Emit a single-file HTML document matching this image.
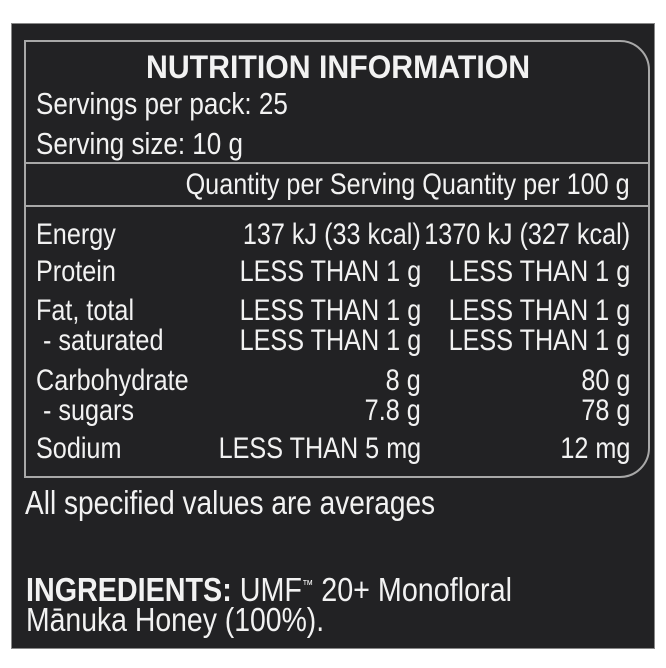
<!DOCTYPE html>
<html><head><meta charset="utf-8"><style>
html,body{margin:0;padding:0;background:#fff;}
body{width:666px;height:668px;position:relative;overflow:hidden;font-family:"Liberation Sans",Arial,sans-serif;color:#f2f2f2;}
#panel{position:absolute;left:11px;top:23px;width:644px;height:626px;background:#222224;border:1px solid #888;box-sizing:border-box;}
#box{position:absolute;left:24px;top:40px;width:626px;height:438px;border:2px solid #a8a8a8;border-radius:0 30px 30px 0;box-sizing:border-box;}
.hl{position:absolute;left:26px;width:622px;height:2px;background:#a8a8a8;}
.t{position:absolute;white-space:nowrap;font-size:30px;line-height:30px;transform:scaleX(0.84);transform-origin:left center;}
.r{transform-origin:right center;text-align:right;}
.f{font-size:33px;line-height:33px;transform:scaleX(0.85);}
.b{font-weight:bold;}
</style></head><body>
<div id="panel"></div>
<div id="box"></div>
<div class="hl" style="top:162px"></div>
<div class="hl" style="top:205px"></div>

<div class="t b" style="left:146px;top:51px;font-size:32px;line-height:32px;transform:scaleX(0.945)">NUTRITION INFORMATION</div>
<div class="t" style="left:36px;top:88px;font-size:31px;line-height:31px">Servings per pack: 25</div>
<div class="t" style="left:36px;top:128px;font-size:31px;line-height:31px">Serving size: 10 g</div>

<div class="t r" style="right:36px;top:170px">Quantity per Serving Quantity per 100 g</div>

<div class="t" style="left:36px;top:220px">Energy</div>
<div class="t r" style="right:245px;top:220px">137 kJ (33 kcal)</div>
<div class="t r" style="right:36px;top:220px">1370 kJ (327 kcal)</div>

<div class="t" style="left:36px;top:257px">Protein</div>
<div class="t r" style="right:245px;top:257px">LESS THAN 1 g</div>
<div class="t r" style="right:36px;top:257px">LESS THAN 1 g</div>

<div class="t" style="left:36px;top:296px">Fat, total</div>
<div class="t r" style="right:245px;top:296px">LESS THAN 1 g</div>
<div class="t r" style="right:36px;top:296px">LESS THAN 1 g</div>

<div class="t" style="left:36px;top:326px">&nbsp;- saturated</div>
<div class="t r" style="right:245px;top:326px">LESS THAN 1 g</div>
<div class="t r" style="right:36px;top:326px">LESS THAN 1 g</div>

<div class="t" style="left:36px;top:366px">Carbohydrate</div>
<div class="t r" style="right:245px;top:366px">8 g</div>
<div class="t r" style="right:36px;top:366px">80 g</div>

<div class="t" style="left:36px;top:396px">&nbsp;- sugars</div>
<div class="t r" style="right:245px;top:396px">7.8 g</div>
<div class="t r" style="right:36px;top:396px">78 g</div>

<div class="t" style="left:36px;top:434px">Sodium</div>
<div class="t r" style="right:245px;top:434px">LESS THAN 5 mg</div>
<div class="t r" style="right:36px;top:434px">12 mg</div>

<div class="t f" style="left:25px;top:486px">All specified values are averages</div>
<div class="t f" style="left:26px;top:568px;transform:scaleX(0.87)"><b>INGREDIENTS:</b> UMF<sup style="font-size:13px">™</sup> 20+ Monofloral</div>
<div class="t f" style="left:26px;top:603px;transform:scaleX(0.86)">Mānuka Honey (100%).</div>
</body></html>
